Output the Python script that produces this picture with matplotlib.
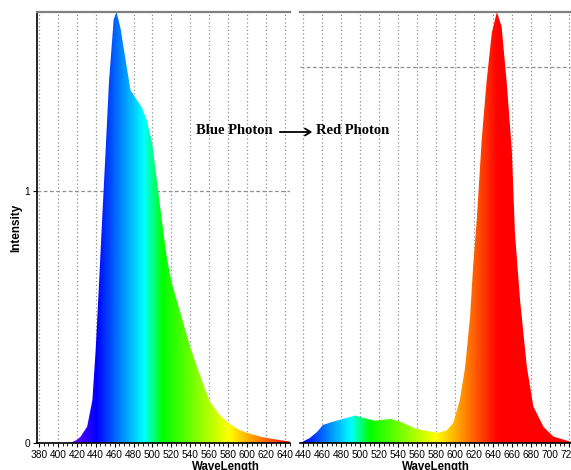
import numpy as np
import matplotlib
matplotlib.use("Agg")
import matplotlib.pyplot as plt
from matplotlib.colors import LinearSegmentedColormap
from matplotlib.ticker import MultipleLocator

plt.rcParams['font.family'] = ['Liberation Sans', 'DejaVu Sans']

# blue LED spectrum (left panel), intensity in left-axis units
blue_nm = [378, 400, 410, 414, 420, 424, 431, 436.5, 440, 443.5, 447, 450.5, 454, 459, 462,
           466, 471.6, 476.8, 482, 489, 494, 499.7, 505, 510, 515, 520, 530, 540, 550,
           560, 570, 580, 590, 600, 615, 630, 645]
blue_int = [0, 0, 0, 0.002, 0.012, 0.025, 0.065, 0.17, 0.37, 0.63, 0.90, 1.16, 1.43, 1.68, 1.71,
            1.65, 1.52, 1.40, 1.37, 1.33, 1.28, 1.19, 1.03, 0.88, 0.74, 0.64, 0.51, 0.38, 0.27,
            0.17, 0.115, 0.08, 0.055, 0.04, 0.024, 0.014, 0.006]

# converted (red) spectrum (right panel), intensity in right-axis units
red_nm = [437, 447, 455, 461, 472, 482, 495, 505, 516, 532, 542, 560, 581, 591, 598, 605,
          610.5, 615.8, 619, 623, 628, 633, 638.6, 644, 649, 654.4, 659.7, 663, 668.4,
          675.5, 682.4, 693, 703.5, 722]
red_int = [0, 0.013, 0.03, 0.048, 0.057, 0.064, 0.073, 0.066, 0.059, 0.064, 0.057, 0.037,
           0.027, 0.033, 0.053, 0.114, 0.20, 0.336, 0.47, 0.60, 0.806, 0.957, 1.09, 1.146,
           1.107, 0.957, 0.78, 0.558, 0.38, 0.203, 0.097, 0.043, 0.017, 0.003]

left_xticks = list(range(380, 641, 20))
right_xticks = list(range(440, 721, 20))

# wavelength colour stops (nm, colour)
stops = [(380, '#a000ff'), (420, '#5500ff'), (440, '#0000ff'), (490, '#00ffff'),
         (510, '#00ff00'), (580, '#ffff00'), (645, '#ff0000'), (750, '#ff0000')]
lo, hi = 380, 750
spectrum = LinearSegmentedColormap.from_list(
    'spec', [((w - lo) / (hi - lo), c) for w, c in stops])

fig = plt.figure(figsize=(5.71, 4.70), dpi=100)
W, H = 571, 470
ax1 = fig.add_axes([37 / W, 27 / H, 253 / W, 431 / H])
ax2 = fig.add_axes([300 / W, 27 / H, 271 / W, 431 / H])


def draw_spectrum(ax, nm, inten, xlim, ytop, xticks, hline):
    ax.set_xlim(*xlim)
    ax.set_ylim(0, ytop)
    poly = ax.fill_between(nm, inten, 0, facecolor='none', edgecolor='none')
    grad = np.linspace(lo, hi, 800).reshape(1, -1)
    img = ax.imshow(grad, cmap=spectrum, vmin=lo, vmax=hi, aspect='auto',
                    extent=[lo, hi, 0, ytop], origin='lower', zorder=2,
                    interpolation='bilinear')
    img.set_clip_path(poly.get_paths()[0], transform=ax.transData)
    for x in xticks:
        ax.axvline(x, color='#8f8f8f', lw=0.9, ls=(0, (1, 2)), zorder=1)
    ax.axhline(hline, color='#8f8f8f', lw=0.9, ls=(0, (3, 2)), zorder=1)
    ax.set_xticks(xticks)
    ax.xaxis.set_minor_locator(MultipleLocator(5))
    ax.tick_params(axis='x', which='major', length=3, width=0.8, labelsize=7.3,
                   pad=2, direction='out')
    ax.tick_params(axis='x', which='minor', length=2, width=0.6, direction='out')
    ax.spines['top'].set_color('#808080')
    ax.spines['top'].set_linewidth(1.6)
    ax.spines['right'].set_visible(False)
    ax.spines['bottom'].set_color('black')
    ax.spines['bottom'].set_linewidth(1.2)
    ax.set_xlabel('WaveLength', fontsize=8.3, fontweight='bold', labelpad=0)


draw_spectrum(ax1, blue_nm, blue_int, (378, 645.3), 1.71, left_xticks, 1)
draw_spectrum(ax2, red_nm, red_int, (436.8, 722), 1.146, right_xticks, 1)

ax1.set_yticks([0, 1])
ax1.tick_params(axis='y', length=3, width=0.8, labelsize=7.3, pad=2)
ax1.spines['left'].set_color('black')
ax1.spines['left'].set_linewidth(1.2)
ax1.set_ylabel('Intensity', fontsize=8.5, fontweight='bold')
ax1.yaxis.set_label_coords(-(37 - 22) / 253, 0.5)
ax1.xaxis.set_label_coords((226 - 37) / 253, -0.041)

ax2.set_yticks([])
ax2.spines['left'].set_visible(False)
ax2.xaxis.set_label_coords(0.5, -0.041)

serif = ['Liberation Serif', 'DejaVu Serif']
fig.text(273 / W, 1 - 131 / H, 'Blue Photon', ha='right', va='center',
         family=serif, fontweight='bold', fontsize=10.5, color='black')
fig.text(316 / W, 1 - 131 / H, 'Red Photon', ha='left', va='center',
         family=serif, fontweight='bold', fontsize=10.5, color='black')
fig.add_artist(matplotlib.patches.FancyArrowPatch(
    (277 / W, 1 - 132 / H), (315 / W, 1 - 132 / H), transform=fig.transFigure,
    arrowstyle='->,head_length=4,head_width=2.5', lw=1.3, color='black'))

fig.savefig('out.png', dpi=100)
